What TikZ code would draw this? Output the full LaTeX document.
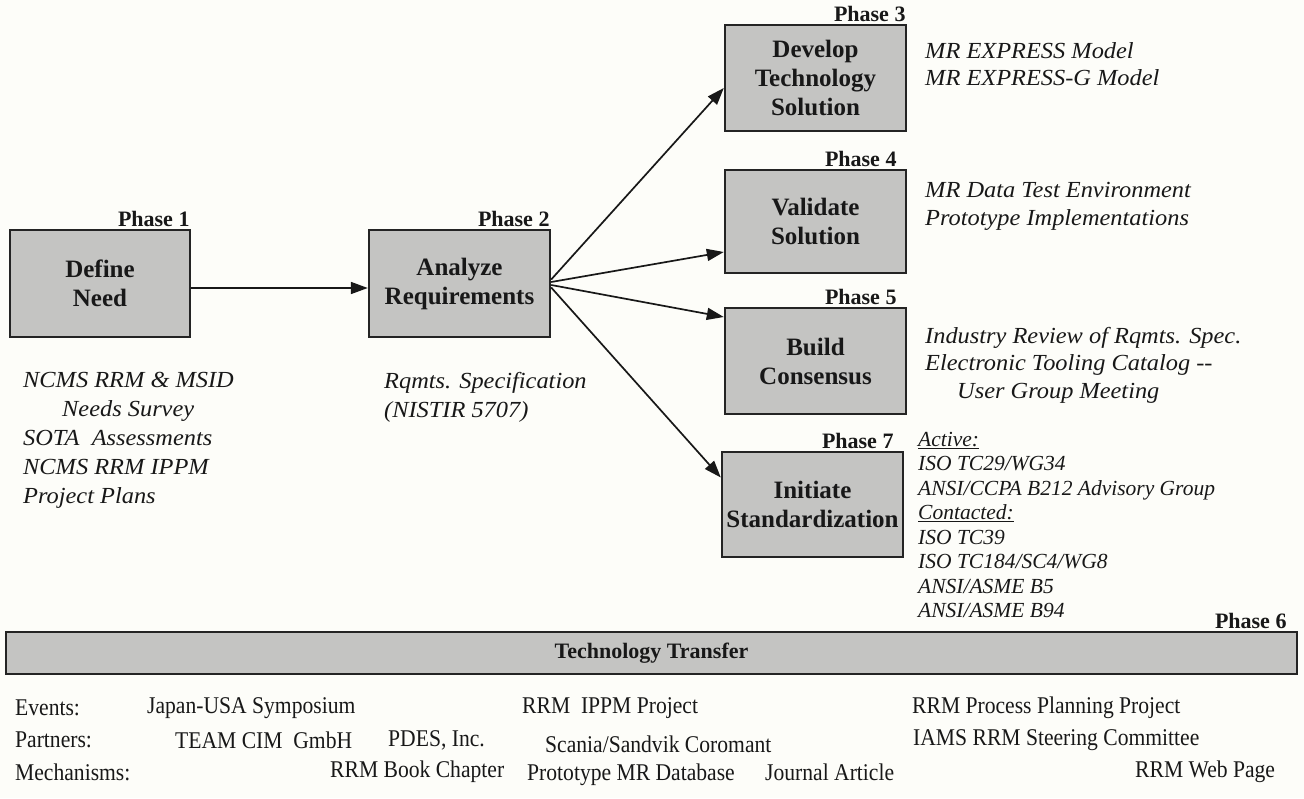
\documentclass[tikz,border=0pt]{standalone}
\usepackage{fontspec}
\setmainfont{Liberation Serif}
\newfontfamily\notefont[FakeStretch=1.06]{Liberation Serif}
\newfontfamily\rowfont[FakeStretch=0.9]{Liberation Serif}
\usetikzlibrary{arrows.meta}
\definecolor{paper}{RGB}{253,253,249}
\definecolor{boxfill}{RGB}{196,196,194}
\definecolor{boxline}{RGB}{36,36,36}
\definecolor{ink}{RGB}{24,24,24}
\begin{document}
\begin{tikzpicture}[x=1pt,y=-1pt,
  every node/.style={text=ink},
  phasebox/.style={draw=boxline, line width=2.4pt, fill=boxfill, align=center,
    inner sep=0pt, minimum width=181pt, font=\bfseries\fontsize{25}{29}\selectfont},
  phasetag/.style={anchor=south east, inner sep=1.5pt,
    font=\bfseries\fontsize{22}{24}\selectfont},
  notes/.style={anchor=north west, align=left, inner sep=0pt,
    font=\notefont\itshape\fontsize{23}{28}\selectfont},
  smallnotes/.style={anchor=north west, align=left, inner sep=0pt,
    font=\itshape\fontsize{21.5}{24.5}\selectfont},
  rowtext/.style={anchor=west, inner sep=0pt, font=\rowfont\fontsize{24}{26}\selectfont},
  flow/.style={draw=ink, line width=1.7pt, -{Triangle[length=17pt,width=12pt]}}
]
% page
\fill[paper] (0,0) rectangle (1304,798);
\useasboundingbox (0,0) rectangle (1304,798);

% phase boxes
\node[phasebox, minimum width=180pt, minimum height=107pt] (need) at (100,283.5) {Define\\Need};
\node[phasebox, minimum height=107pt] (req) at (459.5,283.5) {Analyze\\Requirements};
\node[phasebox, minimum height=106pt] (dev) at (815.5,78) {Develop\\Technology\\Solution};
\node[phasebox, minimum height=103pt] (val) at (815.5,221.5) {Validate\\Solution};
\node[phasebox, minimum height=106pt] (cons) at (815.5,361) {Build\\Consensus};
\node[phasebox, minimum height=105pt] (std) at (812.5,504.5) {Initiate\\Standardization};
\node[draw=boxline, line width=2.4pt, fill=boxfill, inner sep=0pt,
  minimum width=1291pt, minimum height=42pt,
  font=\bfseries\fontsize{22}{24}\selectfont] (tt) at (651.5,653) {Technology Transfer};

% phase tags
\node[phasetag] (p1) at (need.north east) {Phase 1};
\node[phasetag] (p2) at (req.north east) {Phase 2};
\node[phasetag] (p3) at (dev.north east) {Phase 3};
\node[phasetag] (p4) at ([xshift=-9pt]val.north east) {Phase 4};
\node[phasetag] (p5) at ([xshift=-9pt]cons.north east) {Phase 5};
\node[phasetag] (p7) at ([xshift=-9pt]std.north east) {Phase 7};
\node[phasetag] (p6) at ([xshift=-10pt]tt.north east) {Phase 6};

% flow arrows
\draw[flow] ([yshift=-4.5pt]need.east) -- ([yshift=-4.5pt]req.west);
\draw[flow] ([yshift=4pt]req.east) -- ([yshift=-10pt]dev.west);
\draw[flow] ([yshift=1.5pt]req.east) -- ([yshift=-30.5pt]val.west);
\draw[flow] ([yshift=-1.5pt]req.east) -- ([yshift=44pt]cons.west);
\draw[flow] ([yshift=-4pt]req.east) -- ([yshift=27pt]std.west);

% results of each phase
\node[notes, font=\notefont\itshape\fontsize{23}{29}\selectfont] (needout) at (23,372)
  {NCMS RRM \& MSID\\\hspace*{39pt}Needs Survey\\SOTA\ \ Assessments\\NCMS RRM IPPM\\Project Plans};
\node[notes, font=\notefont\itshape\fontsize{23}{29}\selectfont] (reqout) at (384,372)
  {Rqmts. Specification\\(NISTIR 5707)};
\node[notes, font=\notefont\itshape\fontsize{23}{27}\selectfont] (devout) at (925,42)
  {MR EXPRESS Model\\MR EXPRESS-G Model};
\node[notes] (valout) at (925,182) {MR Data Test Environment\\Prototype Implementations};
\node[notes, font=\notefont\itshape\fontsize{23}{27.5}\selectfont] (consout) at (925,327)
  {Industry Review of Rqmts. Spec.\\Electronic Tooling Catalog --\\\hspace*{32pt}User Group Meeting};
\node[smallnotes] (stdout) at (918,432) {\underline{Active:}\\ISO TC29/WG34\\ANSI/CCPA B212 Advisory Group\\\underline{Contacted:}\\ISO TC39\\ISO TC184/SC4/WG8\\ANSI/ASME B5\\ANSI/ASME B94};

% technology transfer rows
\node[rowtext] (ev) at (15,708) {Events:};
\node[rowtext] (ev1) at (147,708) {Japan-USA Symposium};
\node[rowtext] (ev2) at (522,708) {RRM\ \ IPPM Project};
\node[rowtext] (ev3) at (912,708) {RRM Process Planning Project};
\node[rowtext] (pa) at (15,740) {Partners:};
\node[rowtext] (pa1) at (175,740) {TEAM CIM\ \ GmbH};
\node[rowtext] (pa2) at (388,740) {PDES, Inc.};
\node[rowtext] (pa3) at (545,744) {Scania/Sandvik Coromant};
\node[rowtext] (pa4) at (913,740) {IAMS RRM Steering Committee};
\node[rowtext] (me) at (15,772) {Mechanisms:};
\node[rowtext] (me1) at (330,772) {RRM Book Chapter};
\node[rowtext] (me2) at (527,775) {Prototype MR Database};
\node[rowtext] (me3) at (765,772) {Journal Article};
\node[rowtext] (me4) at (1135,772) {RRM Web Page};
\end{tikzpicture}
\end{document}
